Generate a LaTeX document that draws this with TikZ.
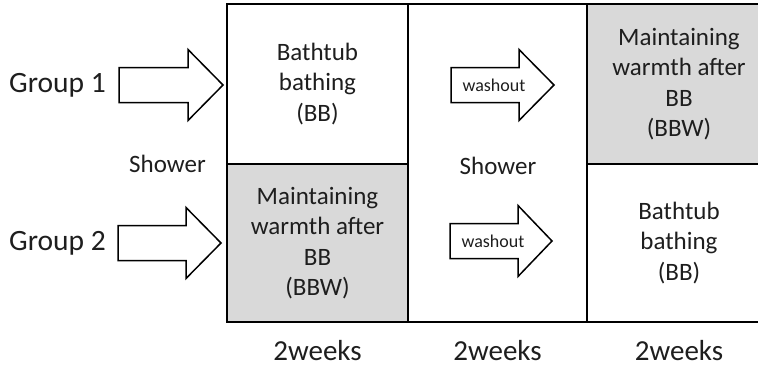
\documentclass[tikz,border=0pt]{standalone}
\usepackage{fontspec}
\setmainfont{Carlito}
\definecolor{boxgray}{HTML}{D9D9D9}
\definecolor{txt}{HTML}{1E1E1E}
\newcommand{\blockarr}[4]{%
  \draw[blk] (#1,#4-17.5) -- (#2,#4-17.5) -- (#2,#4-35.5) -- (#3,#4)
    -- (#2,#4+35.5) -- (#2,#4+17.5) -- (#1,#4+17.5) -- cycle;}
\begin{document}
\begin{tikzpicture}[x=1pt,y=-1pt,
  cell/.style={draw=black, line width=1.6pt, rectangle, inner sep=0pt,
    align=center, text=txt, font=\fontsize{25}{30.5}\selectfont},
  graycell/.style={cell, fill=boxgray},
  whitecell/.style={cell, fill=white},
  blk/.style={draw=black, line width=1.5pt, fill=white, line join=miter},
  lbl/.style={text=txt, inner sep=0pt, font=\fontsize{25}{30}\selectfont},
  grp/.style={text=txt, inner sep=0pt, font=\fontsize{29.5}{34}\selectfont},
  wk/.style={text=txt, inner sep=0pt, font=\fontsize{29}{34}\selectfont},
  wo/.style={text=txt, inner sep=0pt, font=\fontsize{18}{22}\selectfont}]
\useasboundingbox (0,0) rectangle (758,370);
\clip (0,0) rectangle (758,370);
% grid cells
\node[whitecell, minimum width=181pt, minimum height=160pt] (a1) at (317.5,84) {Bathtub\\bathing\\(BB)};
\node[graycell, minimum width=181pt, minimum height=158pt] (a2) at (317.5,243) {Maintaining\\warmth after\\BB\\(BBW)};
\node[whitecell, minimum width=179pt, minimum height=318pt] (m) at (497.5,163) {};
\node[graycell, minimum width=184pt, minimum height=160pt] (c1) at (679,84) {Maintaining\\warmth after\\BB\\(BBW)};
\node[whitecell, minimum width=184pt, minimum height=158pt] (c2) at (679,243) {Bathtub\\bathing\\(BB)};
% labels
\node[grp, anchor=west] (g1) at (9,85) {Group 1};
\node[grp, anchor=west] (g2) at (9,243) {Group 2};
\node[lbl] (sh1) at (167.5,164) {Shower};
\node[lbl] (sh2) at (498,166) {Shower};
% arrows
\blockarr{119}{188}{223}{85}
\blockarr{118}{186}{221}{243}
\blockarr{451}{519}{554}{85}
\blockarr{450}{518}{552}{241}
\node[wo] (w1) at (494,85) {washout};
\node[wo] (w2) at (493,241) {washout};
% durations
\node[wk] (d1) at (317.5,351) {2weeks};
\node[wk] (d2) at (497.5,351) {2weeks};
\node[wk] (d3) at (679,351) {2weeks};
\end{tikzpicture}
\end{document}
